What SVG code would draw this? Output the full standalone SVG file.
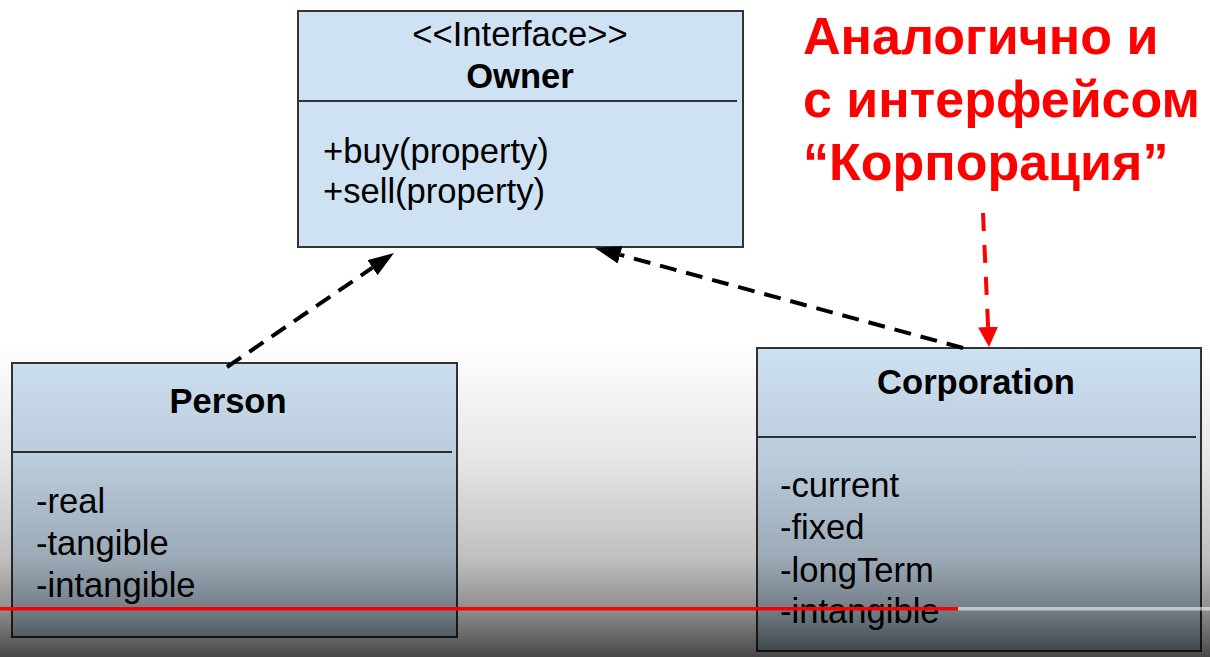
<svg xmlns="http://www.w3.org/2000/svg" width="1210" height="657" viewBox="0 0 1210 657">
  <defs>
    <style>
      .box { fill: #cfe2f3; stroke: #333333; stroke-width: 2; }
      .div { stroke: #333333; stroke-width: 2; }
      .t { font-family: "Liberation Sans", Arial, sans-serif; font-size: 34.6px; fill: #000; }
      .b { font-weight: bold; }
      .c { text-anchor: middle; }
      .red { font-family: "Liberation Sans", Arial, sans-serif; font-size: 52px; font-weight: bold; fill: #ff0000; }
      .dash { fill: none; stroke: #000; stroke-width: 4; stroke-dasharray: 17 10; }
      .rdash { fill: none; stroke: #ff0000; stroke-width: 4; stroke-dasharray: 18 14; }
    </style>
    <marker id="ah" markerUnits="userSpaceOnUse" viewBox="0 0 26 18" refX="0" refY="9" markerWidth="26" markerHeight="18" orient="auto">
      <path d="M0,0 L26,9 L0,18 z" fill="#000"/>
    </marker>
    <marker id="rah" markerUnits="userSpaceOnUse" viewBox="0 0 20 20" refX="0" refY="10" markerWidth="20" markerHeight="20" orient="auto">
      <path d="M0,0 L20,10 L0,20 z" fill="#ff0000"/>
    </marker>
    <linearGradient id="shade" x1="0" y1="0" x2="0" y2="657" gradientUnits="userSpaceOnUse">
      <stop offset="0.52" stop-color="#000" stop-opacity="0"/>
      <stop offset="0.7" stop-color="#000" stop-opacity="0.1"/>
      <stop offset="0.85" stop-color="#000" stop-opacity="0.25"/>
      <stop offset="0.93" stop-color="#000" stop-opacity="0.45"/>
      <stop offset="1" stop-color="#000" stop-opacity="0.72"/>
    </linearGradient>
  </defs>
  <rect x="0" y="0" width="1210" height="657" fill="#ffffff"/>

  <g id="owner">
    <rect class="box" x="298" y="11" width="445" height="236"/>
    <line class="div" x1="298" y1="101" x2="737" y2="101"/>
    <text class="t c" x="520" y="46">&lt;&lt;Interface&gt;&gt;</text>
    <text class="t b c" x="520" y="88">Owner</text>
    <text class="t" x="323" y="163">+buy(property)</text>
    <text class="t" x="323" y="203">+sell(property)</text>
  </g>

  <g id="person">
    <rect class="box" x="12" y="363" width="445" height="274"/>
    <line class="div" x1="12" y1="452" x2="452" y2="452"/>
    <text class="t b c" x="228" y="413">Person</text>
    <text class="t" x="36" y="513">-real</text>
    <text class="t" x="36" y="555">-tangible</text>
    <text class="t" x="36" y="597">-intangible</text>
  </g>

  <g id="corporation">
    <rect class="box" x="757" y="348" width="444" height="303"/>
    <line class="div" x1="757" y1="437" x2="1196" y2="437"/>
    <text class="t b c" x="976" y="394">Corporation</text>
    <text class="t" x="780" y="497">-current</text>
    <text class="t" x="780" y="539">-fixed</text>
    <text class="t" x="780" y="582">-longTerm</text>
    <text class="t" x="780" y="623">-intangible</text>
  </g>

  <g id="note">
    <text class="red" x="803" y="54">Аналогично и</text>
    <text class="red" x="803" y="117">с интерфейсом</text>
    <text class="red" x="803" y="180">“Корпорация”</text>
  </g>

  <g id="connectors">
    <line class="dash" x1="227" y1="367" x2="372.5" y2="267.7" marker-end="url(#ah)"/>
    <line class="dash" x1="963" y1="348" x2="620.1" y2="254.8" marker-end="url(#ah)"/>
    <line class="rdash" x1="983" y1="213" x2="988.1" y2="327" marker-end="url(#rah)"/>
  </g>

  <rect x="0" y="0" width="1210" height="657" fill="url(#shade)"/>
  <g id="progress">
    <rect x="0" y="607" width="958" height="3.5" fill="#ff0000"/>
    <rect x="958" y="607" width="252" height="3.5" fill="#ffffff" fill-opacity="0.55"/>
  </g>
</svg>
